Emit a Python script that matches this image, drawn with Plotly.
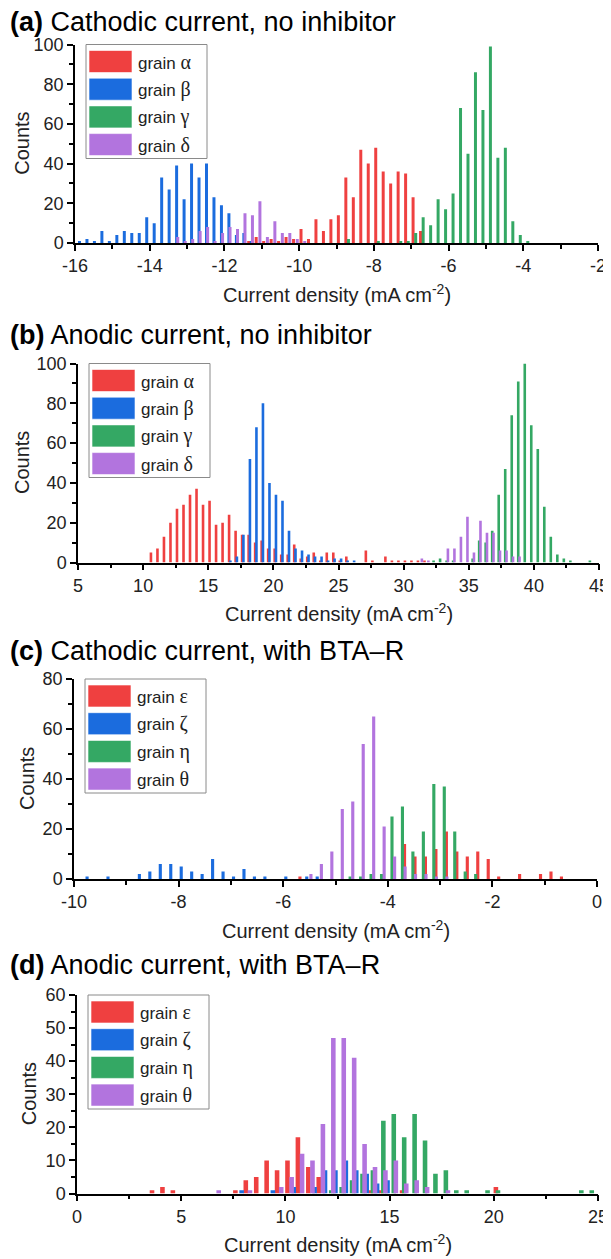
import numpy as np
import plotly.graph_objects as go

# the page body adds an 8 px margin, so the figure is drawn 8 px smaller
PAD = 8
W, H = 611 - PAD, 1259 - PAD

# colours of the four grains in each panel
red, blue, green, purple = "#EF4040", "#1B6CDE", "#34A864", "#B274DE"
colors = [red, blue, green, purple]

# ---------------- data (bin start, bin step, counts) ----------------
# (a) cathodic, no inhibitor, bin 0.2
a_step = 0.2
a_alpha_start = -11.35
a_alpha = [1, 3, 1, 2, 1, 3, 2, 7, 2, 12, 6, 12, 14, 33, 23, 47, 40, 48, 36, 30, 36, 35, 23, 6]
a_beta_start = -15.88
a_beta = [1, 2, 1, 6, 1, 4, 6, 5, 5, 13, 10, 33, 27, 39, 22, 40, 33, 40, 23, 19, 15, 4, 5, 1]
a_gamma_start = -8.68
a_gamma = [2, 0, 0, 0, 1, 0, 0, 1, 1, 5, 13, 9, 22, 17, 25, 68, 45, 86, 67, 99, 43, 48, 11, 4, 1]
a_delta_start = -13.25
a_delta = [3, 1, 2, 6, 8, 1, 5, 8, 7, 15, 14, 21, 3, 11, 5, 5, 2, 1]

# (b) anodic, no inhibitor, bin 0.5
b_step = 0.5
b_alpha_start = 10.6
b_alpha = [5, 7, 13, 20, 27, 29, 34, 37, 29, 31, 19, 20, 24, 16, 14, 14, 10, 11, 7, 7,
           4, 4, 9, 2, 3, 5, 1, 5, 5, 1, 3, 0, 0, 6, 1, 0, 3, 1, 1, 1, 1, 1, 1]
b_beta_start = 16.7
b_beta = [1, 3, 14, 52, 68, 80, 40, 34, 31, 16, 7, 6, 4, 3, 3, 1, 2, 2, 1, 1]
b_gamma_start = 32.3
b_gamma = [1, 2, 1, 1, 0, 0, 2, 11, 10, 16, 34, 47, 74, 91, 100, 69, 57, 28, 13, 4, 2, 1, 0, 0, 1]
b_delta_start = 31.4
b_delta = [2, 1, 0, 0, 7, 7, 13, 23, 5, 21, 15, 15, 6, 6, 3, 3]

# (c) cathodic, with BTA-R, bin 0.2
c_step = 0.2
c_eps_start = -5.68
c_eps = [1, 0, 0, 0, 0, 0, 0, 1, 0, 0, 14, 9, 9, 12, 19, 11, 9, 11, 8, 1, 0, 2, 0, 2, 3, 1]
c_zeta_start = -9.75
c_zeta = [1, 0, 1, 0, 0, 2, 3, 6, 6, 5, 3, 2, 8, 3, 1, 4, 1, 1, 0, 1, 0, 1, 1]
c_eta_start = -4.72
c_eta = [1, 1, 2, 2, 25, 29, 11, 19, 38, 37, 19, 3, 2]
c_theta_start = -5.47
c_theta = [2, 6, 11, 28, 31, 54, 65, 21, 9, 5, 2, 2, 1, 1]

# (d) anodic, with BTA-R, bin 0.5
d_step = 0.5
d_eps_start = 3.6
d_eps = [1, 2, 1, 0, 0, 0, 0, 0, 1, 4, 5, 10, 7, 10, 17, 8, 5, 0, 0, 0, 0, 1, 1, 0, 1,
         0, 0, 0, 0, 0, 0, 0, 0, 2]
d_zeta_start = 7.9
d_zeta = [1, 0, 0, 1, 0, 2, 0, 2, 7, 7, 10, 7, 6, 3, 4]
d_eta_start = 12.2
d_eta = [1, 2, 4, 6, 7, 22, 24, 17, 24, 16, 6, 7, 1, 1, 0, 1, 1, 0, 0, 0, 0, 0, 0, 0, 1, 1]
d_theta_start = 6.8
d_theta = [1, 0, 0, 1, 0, 0, 2, 5, 12, 10, 21, 47, 47, 41, 15, 8, 7, 10, 3, 4, 2, 0, 1]

names_1 = ["α", "β", "γ", "δ"]
names_2 = ["ε", "ζ", "η", "θ"]

a_xticks = [-16, -14, -12, -10, -8, -6, -4, -2]
a_xlabels = ["-16", "-14", "-12", "-10", "-8", "-6", "-4", "-2"]
b_xticks = [5, 10, 15, 20, 25, 30, 35, 40, 45]
c_xticks = [-10, -8, -6, -4, -2, 0]
c_xlabels = ["-10", "-8", "-6", "-4", "-2", "0"]
d_xticks = [0, 5, 10, 15, 20, 25]

# box = (left, right, top, bottom) of each plot area in page pixels,
# ylab = x of the "Counts" label, ttl = y of the panel title
panels = [
    dict(tag="(a)", title="Cathodic current, no inhibitor", step=a_step, width=0.08,
         series=[(a_alpha_start, a_alpha), (a_beta_start, a_beta), (a_gamma_start, a_gamma), (a_delta_start, a_delta)],
         names=names_1, xr=[-16, -2], xt=a_xticks, xl=a_xlabels, xminor=1,
         yr=[0, 100], ydt=20, yminor=10, box=(75, 598, 44.5, 243), ylab=22, ttl=22),
    dict(tag="(b)", title="Anodic current, no inhibitor", step=b_step, width=0.2,
         series=[(b_alpha_start, b_alpha), (b_beta_start, b_beta), (b_gamma_start, b_gamma), (b_delta_start, b_delta)],
         names=names_1, xr=[5, 45], xt=b_xticks, xl=[str(v) for v in b_xticks], xminor=2.5,
         yr=[0, 100], ydt=20, yminor=10, box=(78, 599, 363.5, 562.5), ylab=22, ttl=335),
    dict(tag="(c)", title="Cathodic current, with BTA\u2013R", step=c_step, width=0.06,
         series=[(c_eps_start, c_eps), (c_zeta_start, c_zeta), (c_eta_start, c_eta), (c_theta_start, c_theta)],
         names=names_2, xr=[-10, 0], xt=c_xticks, xl=c_xlabels, xminor=1,
         yr=[0, 80], ydt=20, yminor=10, box=(74, 597, 679, 879), ylab=27, ttl=651),
    dict(tag="(d)", title="Anodic current, with BTA\u2013R", step=d_step, width=0.22,
         series=[(d_eps_start, d_eps), (d_zeta_start, d_zeta), (d_eta_start, d_eta), (d_theta_start, d_theta)],
         names=names_2, xr=[0, 25], xt=d_xticks, xl=[str(v) for v in d_xticks], xminor=2.5,
         yr=[0, 60], ydt=10, yminor=5, box=(77, 598, 995, 1193.5), ylab=29, ttl=965),
]


def px(x):
    return max(x - PAD, 0) / W


def py(y):
    return 1 - (y - PAD) / H


font = "Liberation Sans, Arial, sans-serif"
serif = "'Liberation Serif','Times New Roman',serif"
fig = go.Figure()
layout = dict(width=W, height=H, margin=dict(l=0, r=0, t=0, b=0),
              plot_bgcolor="white", paper_bgcolor="white", showlegend=False,
              barmode="overlay", font=dict(family=font, color="black"))
shapes, annots = [], []

for i, p in enumerate(panels):
    n = "" if i == 0 else str(i + 1)
    xa, ya = "x" + n, "y" + n
    left, right, top, bottom = p["box"]
    for (start, counts), col in zip(p["series"], colors):
        xs = start + p["step"] * np.arange(len(counts))
        fig.add_trace(go.Bar(x=xs, y=counts, width=p["width"], xaxis=xa, yaxis=ya,
                             marker=dict(color=col, line=dict(width=0))))
    axis_common = dict(showline=True, linecolor="black", linewidth=1.5, ticks="outside",
                       ticklen=6, tickwidth=1.5, tickcolor="black", showgrid=False,
                       zeroline=False, automargin=False, fixedrange=True,
                       ticklabeloverflow="allow",
                       tickfont=dict(size=18, family=font, color="#222"))
    layout["xaxis" + n] = dict(axis_common, domain=[px(left), px(right)], range=p["xr"],
                               anchor=ya, tickvals=p["xt"], ticktext=p["xl"],
                               minor=dict(dtick=p["xminor"], tick0=p["xr"][0], ticklen=4,
                                          tickwidth=1.5, tickcolor="black", ticks="outside"))
    layout["yaxis" + n] = dict(axis_common, domain=[py(bottom), py(top)], range=p["yr"],
                               anchor=xa, dtick=p["ydt"], tick0=0,
                               minor=dict(dtick=p["yminor"], ticklen=4, tickwidth=1.5,
                                          tickcolor="black", ticks="outside"))
    # panel title
    annots.append(dict(text="<b>%s</b> %s" % (p["tag"], p["title"]), x=px(PAD), y=py(p["ttl"]),
                       xref="paper", yref="paper", xanchor="left", yanchor="middle",
                       showarrow=False, font=dict(size=27, family=font, color="black")))
    # axis titles
    annots.append(dict(text="Current density (mA cm<sup>-2</sup>)", x=px((left + right) / 2),
                       y=py(bottom + 50), xref="paper", yref="paper", xanchor="center",
                       yanchor="middle", showarrow=False, font=dict(size=20, family=font, color="#222")))
    annots.append(dict(text="Counts", x=px(p["ylab"]), y=py((top + bottom) / 2), textangle=-90,
                       xref="paper", yref="paper", xanchor="center", yanchor="middle",
                       showarrow=False, font=dict(size=20, family=font, color="#222")))
    # legend box
    lx0, ly0 = left + 11, top
    shapes.append(dict(type="rect", xref="paper", yref="paper", x0=px(lx0), x1=px(lx0 + 121),
                       y0=py(ly0), y1=py(ly0 + 114), line=dict(color="#8a8a8a", width=1),
                       fillcolor="white", layer="above"))
    for k, (nm, col) in enumerate(zip(p["names"], colors)):
        cy = ly0 + 17 + 27.7 * k
        shapes.append(dict(type="rect", xref="paper", yref="paper", x0=px(lx0 + 3), x1=px(lx0 + 46),
                           y0=py(cy - 11), y1=py(cy + 11), fillcolor=col,
                           line=dict(color="rgba(255,255,255,0.6)", width=1), layer="above"))
        annots.append(dict(text="grain <span style=\"font-family:%s;font-size:20px\">%s</span>" % (serif, nm),
                           x=px(lx0 + 50), y=py(cy), xref="paper", yref="paper",
                           xanchor="left", yanchor="middle", showarrow=False,
                           font=dict(size=17, family=font, color="#222")))

layout["shapes"] = shapes
layout["annotations"] = annots
fig.update_layout(**layout)
fig.write_html("out.html")
